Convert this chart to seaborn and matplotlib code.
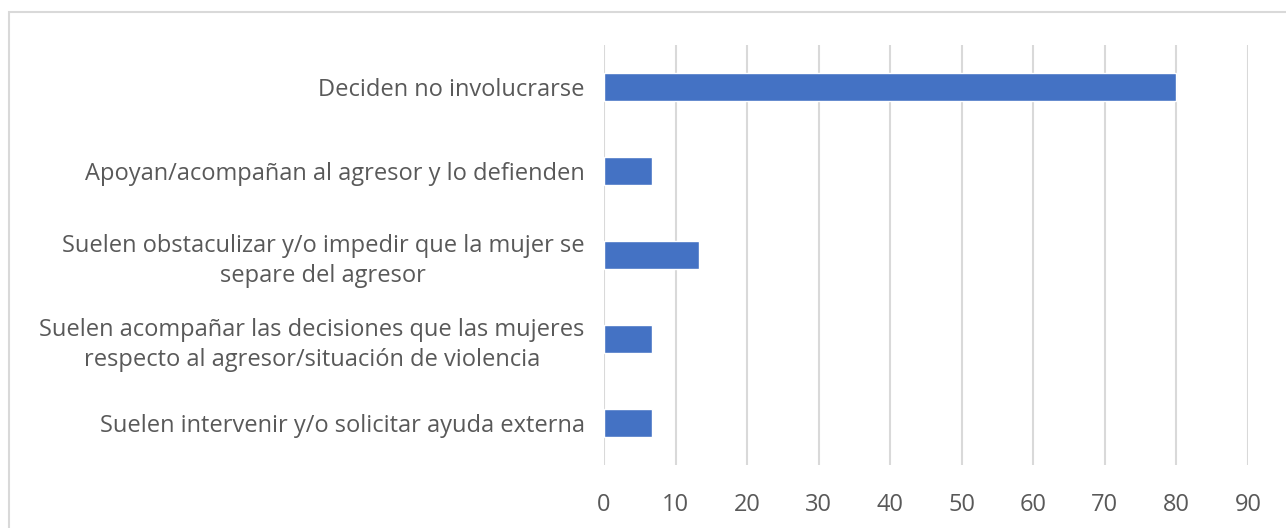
import matplotlib
matplotlib.use("Agg")
import matplotlib.pyplot as plt
import seaborn as sns
import pandas as pd
from matplotlib.patches import Rectangle

categories = [
    "Deciden no involucrarse",
    "Apoyan/acompañan al agresor y lo defienden",
    "Suelen obstaculizar y/o impedir que la mujer se\nsepare del agresor",
    "Suelen acompañar las decisiones que las mujeres\nrespecto al agresor/situación de violencia",
    "Suelen intervenir y/o solicitar ayuda externa",
]
values = [80, 6.67, 13.33, 6.67, 6.67]
xticks = [0, 10, 20, 30, 40, 50, 60, 70, 80, 90]

sns.set_theme(style="white")
plt.rcParams['font.family'] = ['Open Sans', 'DejaVu Sans']

df = pd.DataFrame({"cat": categories, "val": values})

fig = plt.figure(figsize=(12.86, 5.28), dpi=100)
ax = fig.add_axes([604/1286, 1-465/528, (1248-604)/1286, (465-45)/528])

sns.barplot(data=df, y="cat", x="val", color="#4472C4", width=0.34,
            saturation=1, ax=ax, orient="h")

ax.set_xlim(0, 90)
ax.set_xticks(xticks)
ax.set_xticklabels([str(t) for t in xticks])
ax.set_xlabel("")
ax.set_ylabel("")
ax.grid(axis="x", color="#D9D9D9", linewidth=1.5)
ax.set_axisbelow(True)
for s in ax.spines.values():
    s.set_visible(False)
ax.tick_params(axis="both", length=0, colors="#595959", labelsize=17)
ax.tick_params(axis="y", pad=14)
ax.tick_params(axis="x", pad=20)
for lbl in ax.get_yticklabels():
    lbl.set_multialignment("center")
    lbl.set_linespacing(1.35)
    lbl.set_color("#595959")

fig.patches.append(Rectangle((9/1286, -0.1), 1.1, 1-12/528+0.1,
                             transform=fig.transFigure, fill=False,
                             edgecolor="#D9D9D9", linewidth=1.5))

fig.savefig("out.png", dpi=100)
